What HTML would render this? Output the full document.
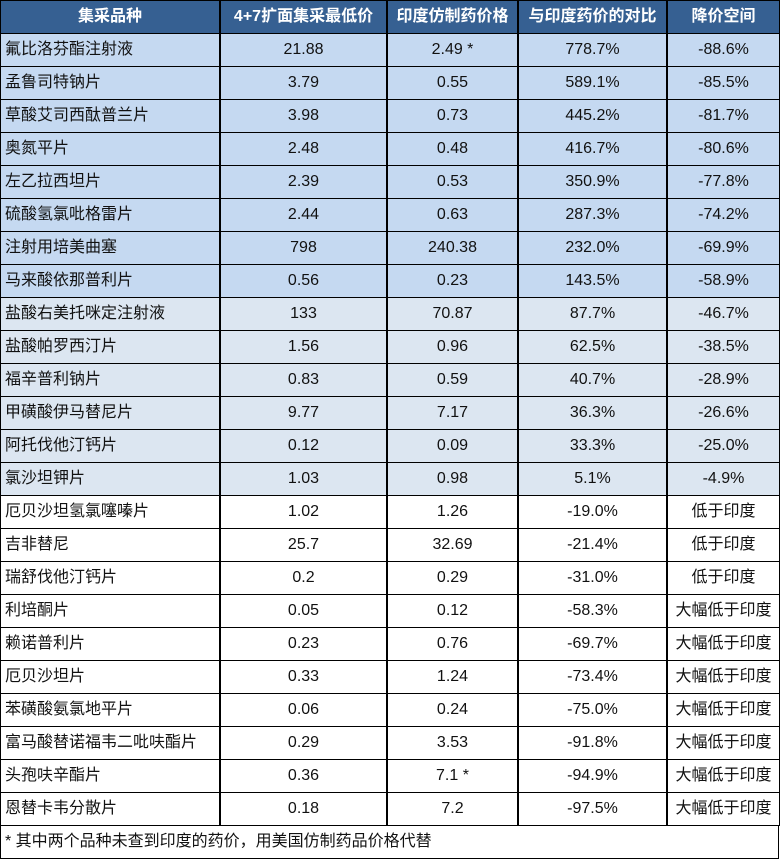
<!DOCTYPE html>
<html><head><meta charset="utf-8"><style>
body{margin:0;width:780px;height:859px;background:#fff;overflow:hidden;font-family:"Liberation Sans","Noto Sans CJK SC",sans-serif;}
.c{position:absolute;box-sizing:border-box;height:34px;border:1px solid #000;font-size:16px;line-height:32px;color:#111;text-align:center;white-space:nowrap;}
.h{background:#366092;color:#fff;font-weight:bold;font-size:16px;}
.l{text-align:left;padding-left:4px;}
</style></head><body><div id="t"></div>
<script>
var X=[0,220,387,518,667,780];
var H=["集采品种","4+7扩面集采最低价","印度仿制药价格","与印度药价的对比","降价空间"];
var D=[["氟比洛芬酯注射液","21.88","2.49 *","778.7%","-88.6%"],["孟鲁司特钠片","3.79","0.55","589.1%","-85.5%"],["草酸艾司西酞普兰片","3.98","0.73","445.2%","-81.7%"],["奥氮平片","2.48","0.48","416.7%","-80.6%"],["左乙拉西坦片","2.39","0.53","350.9%","-77.8%"],["硫酸氢氯吡格雷片","2.44","0.63","287.3%","-74.2%"],["注射用培美曲塞","798","240.38","232.0%","-69.9%"],["马来酸依那普利片","0.56","0.23","143.5%","-58.9%"],["盐酸右美托咪定注射液","133","70.87","87.7%","-46.7%"],["盐酸帕罗西汀片","1.56","0.96","62.5%","-38.5%"],["福辛普利钠片","0.83","0.59","40.7%","-28.9%"],["甲磺酸伊马替尼片","9.77","7.17","36.3%","-26.6%"],["阿托伐他汀钙片","0.12","0.09","33.3%","-25.0%"],["氯沙坦钾片","1.03","0.98","5.1%","-4.9%"],["厄贝沙坦氢氯噻嗪片","1.02","1.26","-19.0%","低于印度"],["吉非替尼","25.7","32.69","-21.4%","低于印度"],["瑞舒伐他汀钙片","0.2","0.29","-31.0%","低于印度"],["利培酮片","0.05","0.12","-58.3%","大幅低于印度"],["赖诺普利片","0.23","0.76","-69.7%","大幅低于印度"],["厄贝沙坦片","0.33","1.24","-73.4%","大幅低于印度"],["苯磺酸氨氯地平片","0.06","0.24","-75.0%","大幅低于印度"],["富马酸替诺福韦二吡呋酯片","0.29","3.53","-91.8%","大幅低于印度"],["头孢呋辛酯片","0.36","7.1 *","-94.9%","大幅低于印度"],["恩替卡韦分散片","0.18","7.2","-97.5%","大幅低于印度"]];
var s="";
function cell(x,y,w,cls,bg,t){s+='<div class="c '+cls+'" style="left:'+x+'px;top:'+y+'px;width:'+(w+1)+'px;background:'+bg+'">'+t+'</div>';}
for(var j=0;j<5;j++)cell(X[j],0,X[j+1]-X[j]-1,"h","#366092",H[j]);
for(var i=0;i<D.length;i++){var bg=i<8?"#c5d9f1":(i<14?"#dce6f1":"#fff");
for(j=0;j<5;j++)cell(X[j],33*(i+1),X[j+1]-X[j]-1,j==0?"l":"",bg,D[i][j]);}
cell(0,33*25,778,"l","#fff","* 其中两个品种未查到印度的药价，用美国仿制药品价格代替");
document.getElementById("t").innerHTML=s;
</script></body></html>
